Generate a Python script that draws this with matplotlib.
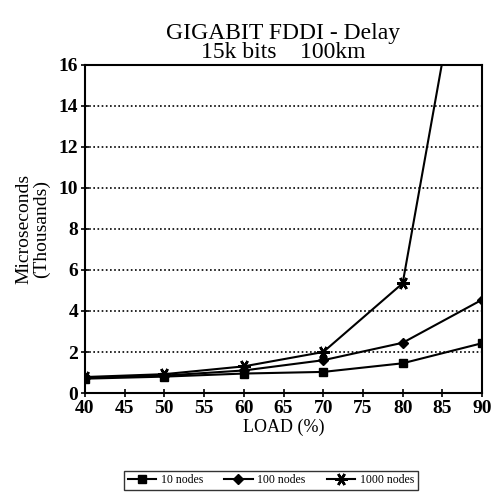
import matplotlib
matplotlib.use("Agg")
import matplotlib.pyplot as plt

load = [40, 50, 60, 70, 80, 90]
nodes10 = [0.70, 0.80, 0.95, 1.03, 1.45, 2.43]
nodes100 = [0.75, 0.85, 1.10, 1.60, 2.45, 4.55]
nodes1000 = [0.78, 0.92, 1.30, 2.00, 5.35, 27.0]
xticks = [40, 45, 50, 55, 60, 65, 70, 75, 80, 85, 90]
yticks = [0, 2, 4, 6, 8, 10, 12, 14, 16]

plt.rcParams['font.family'] = ['Liberation Serif', 'DejaVu Serif']

fig = plt.figure(figsize=(4.97, 4.95), dpi=100)
ax = fig.add_axes([0.171, 0.206, 0.799, 0.663])

ax.plot(load, nodes10, color='black', lw=1.5, marker='s', ms=6, label='10 nodes')
ax.plot(load, nodes100, color='black', lw=1.5, marker='D', ms=5, label='100 nodes')
ax.plot(load, nodes1000, color='black', lw=1.5, marker=(6, 2, 90), ms=9, mew=1.8, label='1000 nodes')

ax.set_xlim(40, 90)
ax.set_ylim(0, 16)
ax.set_xticks(xticks)
ax.set_yticks(yticks)
ax.tick_params(direction='inout', length=6, width=1.2, labelsize=14, pad=2)
for lab in ax.get_xticklabels() + ax.get_yticklabels():
    lab.set_fontweight('bold')
ax.yaxis.grid(True, linestyle=(0, (1, 1.5)), color='black', lw=1.2)
ax.set_axisbelow(True)
for s in ax.spines.values():
    s.set_linewidth(1.5)

ax.set_xlabel('LOAD (%)', fontsize=13, labelpad=1)
ax.set_ylabel('Microseconds\n(Thousands)', fontsize=14, labelpad=6, linespacing=1.0)
ax.set_title('GIGABIT FDDI - Delay\n15k bits    100km', fontsize=17, linespacing=0.85, pad=5)

leg = fig.legend(loc='center', bbox_to_anchor=(0.545, 0.03), ncol=3, fontsize=8.5,
                 frameon=True, fancybox=False, edgecolor='black', handlelength=2.4,
                 columnspacing=1.8, handletextpad=0.4, borderpad=0.3)
leg.get_frame().set_linewidth(1.0)

fig.savefig('out.png', dpi=100)
